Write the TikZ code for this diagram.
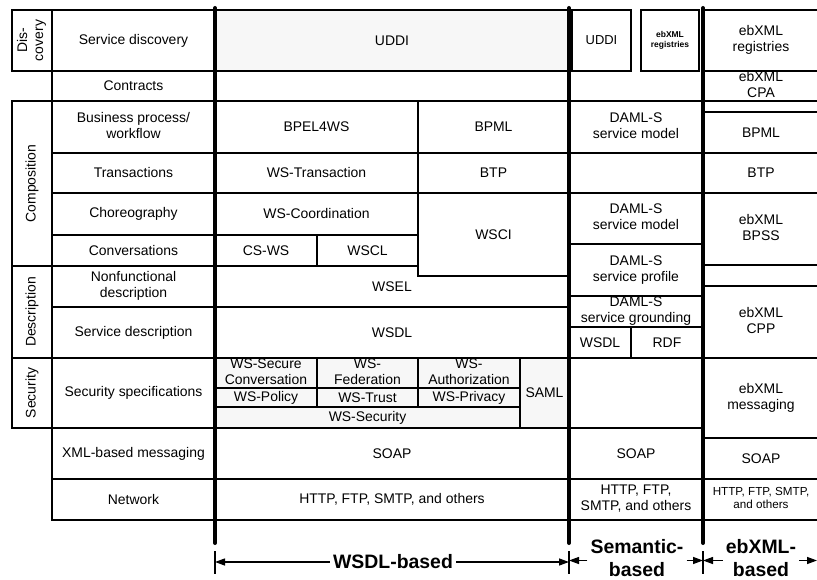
\documentclass[tikz,border=0pt]{standalone}
\usepackage{fontspec}
\setmainfont{Liberation Sans}
\usetikzlibrary{arrows.meta}
\tikzset{
  frame/.style={draw, line width=1.3bp},
  catframe/.style={draw, line width=1.9bp},
  shade/.style={fill=gray!6},
  txt/.style={inner sep=0pt, outer sep=0pt, font=\fontsize{14}{16}\selectfont},
  spine/.style={line width=4bp, line cap=round},
  tick/.style={line width=1.3bp},
  span/.style={line width=1.3bp, -{Triangle[length=10bp,width=7bp]}},
  spanlbl/.style={inner sep=3bp, font=\fontsize{19.5}{22.5}\selectfont\bfseries}
}
% two centred lines of text
\newcommand\twol[2]{\begin{tabular}{@{}c@{}}#1\\#2\end{tabular}}
% framed cell: [frame options]{name}{x1}{y1}{x2}{y2}{text}
\newcommand\cellbox[7][]{%
  \draw[frame,#1] (#3,#4) rectangle (#5,#6);
  \node[txt] (#2) at ({(#3+#5)/2},{(#4+#6)/2}) {#7};}
% framed cell without text
\newcommand\emptybox[5][]{\draw[frame,#1] (#2,#3) rectangle (#4,#5);}
\begin{document}
\begin{tikzpicture}[x=1bp,y=-1bp]
\fill[white] (0,0) rectangle (817,580);
\useasboundingbox (0,0) rectangle (817,580);

% ---- category column ----
\cellbox[catframe]{catdisc}{12}{10}{52}{71}{\rotatebox{90}{\twol{Dis-}{covery}}}
\cellbox[catframe]{catcomp}{12}{101}{52}{266}{\rotatebox{90}{Composition}}
\cellbox[catframe]{catdesc}{12}{266}{52}{358}{\rotatebox{90}{Description}}
\cellbox[catframe]{catsec}{12}{358}{52}{428}{\rotatebox{90}{Security}}

% ---- layer names ----
\cellbox{ldisc}{52}{10}{215}{71}{Service discovery}
\cellbox{lcontr}{52}{71}{215}{101}{Contracts}
\cellbox{lbp}{52}{101}{215}{153}{\twol{Business process/}{workflow}}
\cellbox{ltx}{52}{153}{215}{193}{Transactions}
\cellbox{lchor}{52}{193}{215}{235}{Choreography}
\cellbox{lconv}{52}{235}{215}{266}{Conversations}
\cellbox{lnonf}{52}{266}{215}{307}{\twol{Nonfunctional}{description}}
\cellbox{lsdesc}{52}{307}{215}{358}{Service description}
\cellbox{lsec}{52}{358}{215}{428}{Security specifications}
\cellbox{lxml}{52}{428}{215}{479}{XML-based messaging}
\cellbox{lnet}{52}{479}{215}{520}{Network}

% ---- WSDL-based stack ----
\cellbox[shade]{wuddi}{215}{10}{569}{71}{UDDI}
\emptybox{215}{71}{569}{101}
\cellbox{wbpel}{215}{101}{418}{153}{BPEL4WS}
\cellbox{wbpml}{418}{101}{569}{153}{BPML}
\cellbox{wtx}{215}{153}{418}{193}{WS-Transaction}
\cellbox{wbtp}{418}{153}{569}{193}{BTP}
\cellbox{wcoord}{215}{193}{418}{235}{WS-Coordination}
\cellbox{wcsws}{215}{235}{317}{266}{CS-WS}
\cellbox{wwscl}{317}{235}{418}{266}{WSCL}
\cellbox{wwsci}{418}{193}{569}{276}{WSCI}
\node[txt] (wwsel) at (392,286.5) {WSEL};
\cellbox{wwsdl}{215}{307}{569}{358}{WSDL}
\cellbox[shade]{wsecconv}{215}{358}{317}{388}{\twol{WS-Secure}{Conversation}}
\cellbox[shade]{wfed}{317}{358}{418}{388}{\twol{WS-}{Federation}}
\cellbox[shade]{wauth}{418}{358}{520}{388}{\twol{WS-}{Authorization}}
\cellbox[shade]{wpolicy}{215}{388}{317}{407}{WS-Policy}
\cellbox[shade]{wtrust}{317}{388}{418}{407}{WS-Trust}
\cellbox[shade]{wpriv}{418}{388}{520}{407}{WS-Privacy}
\cellbox[shade]{wsecur}{215}{407}{520}{428}{WS-Security}
\cellbox[shade]{wsaml}{520}{358}{569}{428}{SAML}
\cellbox{wsoap}{215}{428}{569}{479}{SOAP}
\cellbox{wnet}{215}{479}{569}{520}{HTTP, FTP, SMTP, and others}

% ---- semantic-based stack ----
\cellbox{suddi}{572}{10}{631}{71}{\fontsize{13}{15}\selectfont UDDI}
\cellbox{sebreg}{641}{10}{699}{71}{\fontsize{8.5}{10}\selectfont\bfseries\twol{ebXML}{registries}}
\cellbox{smodel}{569}{101}{703}{153}{\twol{DAML-S}{service model}}
\emptybox{569}{153}{703}{193}
\cellbox{smodelb}{569}{193}{703}{244}{\twol{DAML-S}{service model}}
\cellbox{sprofile}{569}{244}{703}{296}{\twol{DAML-S}{service profile}}
\cellbox{sground}{569}{296}{703}{327}{\twol{DAML-S}{service grounding}}
\cellbox{swsdl}{569}{327}{631}{358}{WSDL}
\cellbox{srdf}{631}{327}{703}{358}{RDF}
\emptybox{569}{358}{703}{428}
\cellbox{ssoap}{569}{428}{703}{479}{SOAP}
\cellbox{snet}{569}{479}{703}{520}{\twol{HTTP, FTP,}{SMTP, and others}}

% ---- ebXML-based stack ----
\cellbox{ereg}{703}{10}{819}{71}{\twol{ebXML}{registries}}
\cellbox{ecpa}{703}{71}{819}{101}{\twol{ebXML}{CPA}}
\emptybox{703}{101}{819}{112}
\cellbox{ebpml}{703}{112}{819}{153}{BPML}
\cellbox{ebtp}{703}{153}{819}{193}{BTP}
\cellbox{ebpss}{703}{193}{819}{265}{\twol{ebXML}{BPSS}}
\emptybox{703}{265}{819}{286}
\cellbox{ecpp}{703}{286}{819}{358}{\twol{ebXML}{CPP}}
\cellbox{emsg}{703}{358}{819}{438}{\twol{ebXML}{messaging}}
\cellbox{esoap}{703}{438}{819}{479}{SOAP}
\cellbox{enet}{703}{479}{819}{520}{\fontsize{11.7}{13.5}\selectfont\twol{HTTP, FTP, SMTP,}{and others}}

% ---- heavy dividers between the three families ----
\draw[spine] (215,8) -- (215,543);
\draw[spine] (569,8) -- (569,543);
\draw[spine] (703,8) -- (703,543);

% ---- extent markers ----
\coordinate (ta) at (215,562);
\coordinate (tb) at (569,562);
\coordinate (tc) at (703,562);
\coordinate (td) at (817,562);
\draw[tick] (215,551) -- (215,574);
\draw[tick] (569,551) -- (569,574);
\draw[tick] (703,551) -- (703,574);

\node[spanlbl] (lblw) at (393,562) {WSDL-based};
\node[spanlbl] (lbls) at (637,560.5) {\twol{Semantic-}{based}};
\node[spanlbl] (lble) at (761,560.5) {\twol{ebXML-}{based}};

\draw[span] (lblw.west) -- (lblw.west -| ta);
\draw[span] (lblw.east) -- (lblw.east -| tb);
\draw[span] (lbls.west) -- (lbls.west -| tb);
\draw[span] (lbls.east) -- (lbls.east -| tc);
\draw[span] (lble.west) -- (lble.west -| tc);
\draw[span] (lble.east) -- (lble.east -| td);
\end{tikzpicture}
\end{document}
